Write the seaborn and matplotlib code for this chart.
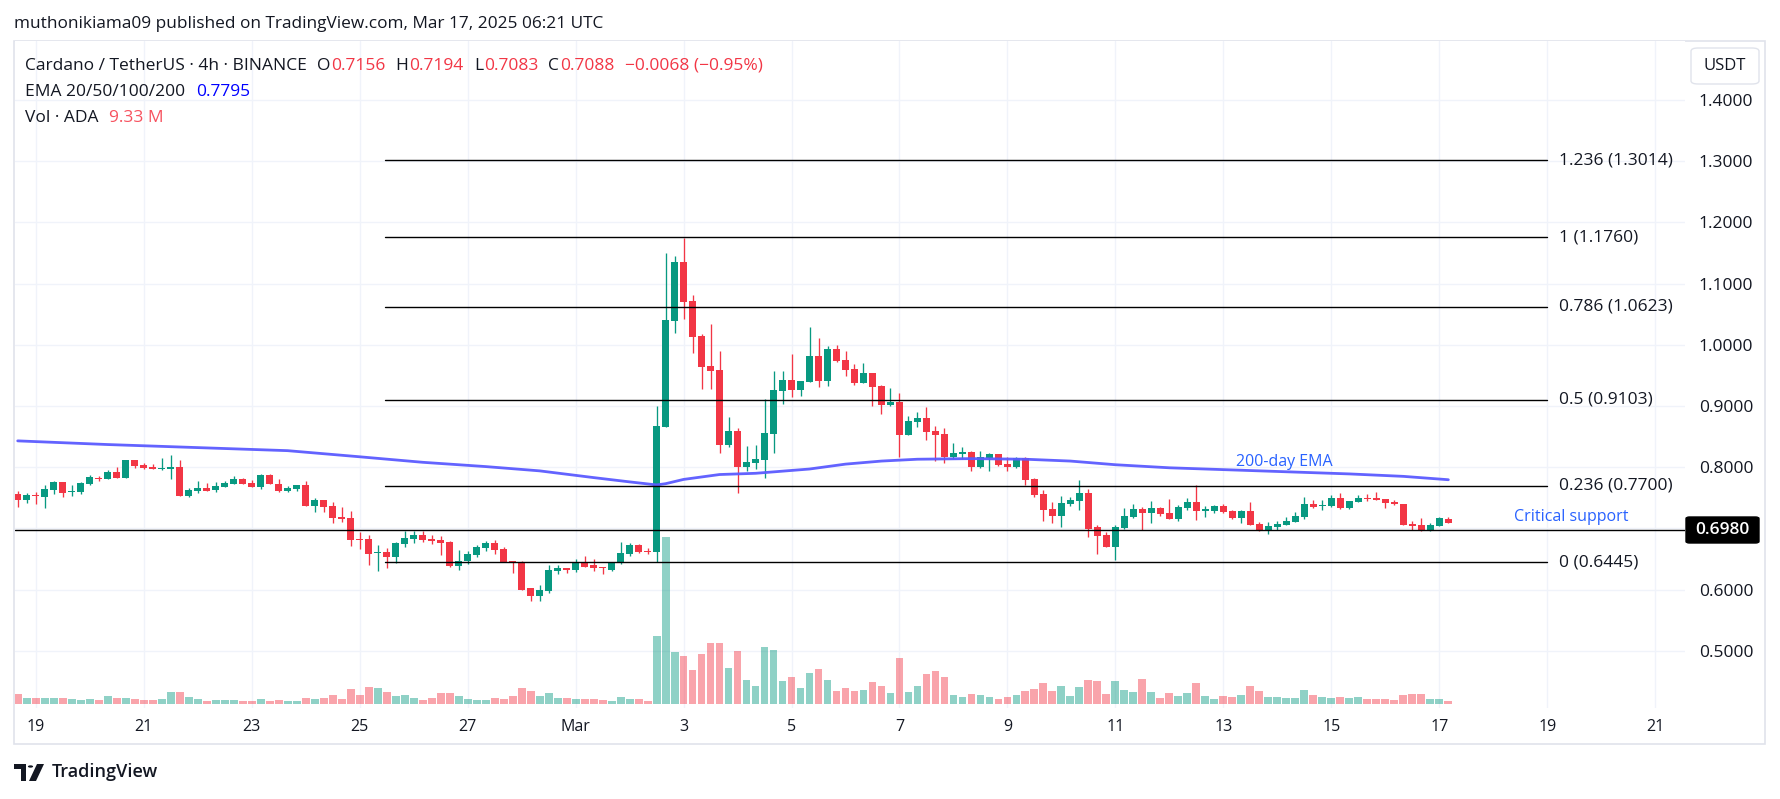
import numpy as np
import pandas as pd
import matplotlib
matplotlib.use("Agg")
import matplotlib.pyplot as plt
import seaborn as sns
from matplotlib.patches import Rectangle, FancyBboxPatch, Polygon, Circle

# ---------------- data ----------------
start_time = "2025-02-18 16:00"
opens = [0.7556,0.7462,0.7533,0.7511,0.7626,0.7751,0.7593,0.7593,0.7718,0.7822,
         0.7805,0.7914,0.7822,0.8110,0.8029,0.7996,0.7963,0.7969,0.7996,0.7522,
         0.7604,0.7653,0.7620,0.7675,0.7718,0.7800,0.7735,0.7675,0.7865,0.7718,
         0.7609,0.7637,0.7702,0.7364,0.7457,0.7359,0.7184,0.7168,0.6819,0.6819,
         0.6601,0.6606,0.6530,0.6743,0.6819,0.6900,0.6819,0.6803,0.6770,0.6383,
         0.6465,0.6563,0.6672,0.6754,0.6656,0.6459,0.6443,0.6018,0.5903,0.5969,
         0.6296,0.6345,0.6312,0.6443,0.6394,0.6360,0.6328,0.6427,0.6574,0.6721,
         0.6623,0.6606,0.8663,1.0390,1.1348,1.0711,1.0145,0.9655,0.9584,0.8364,
         0.8587,0.8004,0.8070,0.8118,0.8543,0.9246,0.9420,0.9262,0.9393,0.9818,
         0.9409,0.9927,0.9747,0.9600,0.9377,0.9535,0.9322,0.9017,0.9061,0.8527,
         0.8734,0.8799,0.8587,0.8539,0.8169,0.8218,0.8245,0.8005,0.8147,0.8212,
         0.8049,0.8005,0.8147,0.7804,0.7559,0.7313,0.7205,0.7395,0.7450,0.7575,
         0.7019,0.6889,0.6698,0.7008,0.7188,0.7313,0.7254,0.7330,0.7248,0.7156,
         0.7335,0.7428,0.7292,0.7286,0.7362,0.7286,0.7166,0.7286,0.7068,0.6976,
         0.7019,0.7057,0.7106,0.7182,0.7395,0.7368,0.7362,0.7493,0.7330,0.7433,
         0.7488,0.7493,0.7477,0.7433,0.7400,0.7057,0.7052,0.6976,0.7041,0.7156]
highs = [0.7604,0.7582,0.7588,0.7702,0.7767,0.7760,0.7702,0.7751,0.7876,0.7849,
         0.7947,0.7996,0.8115,0.8115,0.8070,0.8045,0.8143,0.8192,0.8110,0.7653,
         0.7767,0.7735,0.7751,0.7767,0.7849,0.7816,0.7784,0.7882,0.7882,0.7800,
         0.7686,0.7702,0.7767,0.7490,0.7460,0.7424,0.7348,0.7277,0.6933,0.6900,
         0.6721,0.6672,0.6770,0.6950,0.6950,0.6950,0.6900,0.6868,0.6786,0.6639,
         0.6623,0.6721,0.6786,0.6803,0.6688,0.6475,0.6459,0.6034,0.6083,0.6394,
         0.6394,0.6360,0.6492,0.6541,0.6492,0.6367,0.6443,0.6770,0.6754,0.6737,
         0.6672,0.8994,1.1495,1.1446,1.1751,1.0809,1.0177,1.0335,0.9894,0.8816,
         0.8636,0.8342,0.8358,0.9110,0.9567,0.9567,0.9845,0.9404,1.0286,1.0107,
         0.9976,0.9992,0.9894,0.9682,0.9698,0.9540,0.9338,0.9290,0.9208,0.8832,
         0.8897,0.8979,0.8669,0.8648,0.8392,0.8326,0.8267,0.8267,0.8228,0.8215,
         0.8174,0.8174,0.8163,0.7820,0.7624,0.7428,0.7526,0.7510,0.7787,0.7640,
         0.7052,0.6938,0.7052,0.7330,0.7395,0.7346,0.7444,0.7346,0.7477,0.7379,
         0.7504,0.7706,0.7368,0.7384,0.7395,0.7297,0.7297,0.7433,0.7101,0.7101,
         0.7117,0.7182,0.7264,0.7509,0.7460,0.7460,0.7542,0.7586,0.7444,0.7542,
         0.7558,0.7591,0.7480,0.7460,0.7405,0.7117,0.7166,0.7084,0.7182,0.7194]
lows = [0.7348,0.7413,0.7397,0.7331,0.7560,0.7510,0.7528,0.7560,0.7702,0.7773,
        0.7800,0.7822,0.7822,0.7985,0.7963,0.7963,0.7953,0.7805,0.7528,0.7510,
        0.7577,0.7609,0.7593,0.7675,0.7718,0.7718,0.7675,0.7642,0.7718,0.7593,
        0.7593,0.7609,0.7364,0.7266,0.7266,0.7086,0.7102,0.6710,0.6661,0.6400,
        0.6301,0.6350,0.6432,0.6694,0.6759,0.6770,0.6737,0.6563,0.6367,0.6318,
        0.6421,0.6530,0.6623,0.6574,0.6443,0.6268,0.6001,0.5810,0.5810,0.5936,
        0.6247,0.6263,0.6280,0.6377,0.6296,0.6247,0.6296,0.6410,0.6541,0.6590,
        0.6574,0.6443,0.8663,1.0194,1.0422,0.9867,0.9279,0.9279,0.8233,0.8331,
        0.7580,0.7939,0.7971,0.7824,0.8233,0.9034,0.9148,0.9164,0.9393,0.9311,
        0.9328,0.9720,0.9491,0.9344,0.9377,0.9001,0.8870,0.9001,0.8168,0.8527,
        0.8652,0.8445,0.8102,0.8070,0.8141,0.8141,0.7940,0.7989,0.7940,0.8021,
        0.7940,0.7989,0.7711,0.7515,0.7123,0.7085,0.7025,0.7362,0.7303,0.6861,
        0.6584,0.6698,0.6486,0.6992,0.7172,0.6976,0.7090,0.7205,0.7156,0.7123,
        0.7303,0.7139,0.7188,0.7253,0.7253,0.7150,0.7090,0.7052,0.6959,0.6910,
        0.6970,0.7052,0.7106,0.7150,0.7335,0.7297,0.7351,0.7319,0.7319,0.7428,
        0.7444,0.7460,0.7335,0.7379,0.7052,0.6970,0.6954,0.6959,0.7035,0.7083]
closes = [0.7462,0.7538,0.7522,0.7637,0.7751,0.7577,0.7604,0.7735,0.7833,0.7805,
          0.7914,0.7822,0.8110,0.8012,0.7985,0.7969,0.7980,0.7996,0.7528,0.7620,
          0.7653,0.7609,0.7686,0.7735,0.7800,0.7718,0.7675,0.7865,0.7718,0.7604,
          0.7653,0.7702,0.7364,0.7457,0.7348,0.7168,0.7151,0.6808,0.6808,0.6580,
          0.6606,0.6530,0.6754,0.6835,0.6900,0.6803,0.6786,0.6759,0.6383,0.6475,
          0.6574,0.6688,0.6754,0.6645,0.6443,0.6443,0.6001,0.5903,0.5985,0.6312,
          0.6345,0.6318,0.6443,0.6377,0.6345,0.6350,0.6443,0.6590,0.6721,0.6606,
          0.6606,0.8667,1.0400,1.1348,1.0700,1.0128,0.9638,0.9573,0.8364,0.8587,
          0.8004,0.8086,0.8135,0.8554,0.9257,0.9420,0.9262,0.9404,0.9818,0.9409,
          0.9927,0.9736,0.9589,0.9377,0.9535,0.9311,0.9017,0.9061,0.8527,0.8750,
          0.8799,0.8576,0.8527,0.8169,0.8228,0.8245,0.8005,0.8163,0.8212,0.8032,
          0.8005,0.8147,0.7793,0.7548,0.7303,0.7205,0.7411,0.7461,0.7575,0.6988,
          0.6877,0.6698,0.7019,0.7199,0.7313,0.7254,0.7330,0.7237,0.7156,0.7346,
          0.7428,0.7286,0.7297,0.7362,0.7270,0.7166,0.7286,0.7052,0.6976,0.7035,
          0.7068,0.7117,0.7199,0.7395,0.7351,0.7379,0.7493,0.7330,0.7444,0.7493,
          0.7477,0.7466,0.7422,0.7395,0.7052,0.7047,0.6976,0.7052,0.7166,0.7088]
volumes_m = [31,18.6,18.6,18.6,18.6,18.6,15.5,12.4,15.5,12.4,
             24.8,18.6,18.6,15.5,12.4,12.4,15.5,37.2,37.2,21.7,
             15.5,9.3,12.4,12.4,12.4,9.3,9.3,15.5,9.3,12.4,
             9.3,9.3,18.6,15.5,18.6,27.9,15.5,46.5,27.9,52.7,
             49.6,37.2,24.8,27.9,18.6,12.4,18.6,34.1,34.1,24.8,
             15.5,12.4,12.4,18.6,15.5,24.8,49.6,40.3,24.8,34.1,
             18.6,18.6,15.5,15.5,15.5,12.4,9.3,21.7,15.5,15.5,
             9.3,210.8,517.7,161.2,148.8,105.4,155,189.1,189.1,111.6,
             164.3,74.4,55.8,176.7,167.4,71.3,83.7,49.6,96.1,108.5,
             74.4,40.3,49.6,40.3,43.4,68.2,55.8,34.1,142.6,37.2,
             55.8,93,102.3,83.7,27.9,21.7,31,27.9,21.7,15.5,
             21.7,27.9,40.3,46.5,65.1,40.3,55.8,24.8,52.7,74.4,
             71.3,31,71.3,43.4,37.2,77.5,37.2,18.6,34.1,24.8,
             34.1,65.1,24.8,15.5,24.8,21.7,27.9,55.8,40.3,21.7,
             21.7,18.6,18.6,43.4,27.9,21.7,18.6,21.7,18.6,21.7,
             15.5,15.5,15.5,12.4,27.9,31,31,15.5,15.5,9.33]
ema_idx = [0, 10, 20, 30, 38, 45, 52, 58, 64, 68, 71, 72, 74, 78, 82, 88, 92, 96,
           100, 106, 112, 117, 122, 128, 134, 140, 148, 154, 159]
ema_vals = [0.843, 0.837, 0.832, 0.827, 0.817, 0.808, 0.801, 0.794, 0.783, 0.776,
            0.771, 0.773, 0.780, 0.788, 0.790, 0.797, 0.805, 0.810, 0.813, 0.814,
            0.813, 0.810, 0.804, 0.799, 0.796, 0.793, 0.789, 0.785, 0.7795]
fib_levels = ["0", "0.236", "0.5", "0.786", "1", "1.236"]
fib_prices = [0.6445, 0.7700, 0.9103, 1.0623, 1.1760, 1.3014]
support_price = 0.6980
price_ticks = [0.5, 0.6, 0.7, 0.8, 0.9, 1.0, 1.1, 1.2, 1.3, 1.4]
tick_dates = pd.date_range("2025-02-19", "2025-03-21", freq="2D")

# ---------------- style ----------------
W, H = 1781, 799
sns.set_theme(style="white")
plt.rcParams["font.family"] = ["Open Sans", "DejaVu Sans"]
DARK = "#131722"
UP = "#089981"
DOWN = "#f23645"
GRID = "#f0f3fa"
BLUE_TXT = "#2962ff"

def fx(x):
    return x / W

def fy(y):
    return 1 - y / H

fig = plt.figure(figsize=(W / 100, H / 100), dpi=100)
fig.patch.set_facecolor("white")
rect = [fx(15), fy(708), (1685 - 15) / W, (708 - 41) / H]
ax_v = fig.add_axes(rect, zorder=1)
ax = fig.add_axes(rect, zorder=2)
ax.patch.set_alpha(0)

n = len(closes)
times = pd.date_range(start_time, periods=n, freq="4h")
xs = np.arange(n)
o = np.array(opens); h = np.array(highs); l = np.array(lows); c = np.array(closes)
up = c >= o
col = np.where(up, UP, DOWN)

XL = (-0.3, 185.3)
YL = (0.4065, 1.4964)
for a in (ax, ax_v):
    a.set_xlim(*XL)
    for s in a.spines.values():
        s.set_visible(False)
ax.set_ylim(*YL)
ax_v.set_ylim(-12.4, 2055)

# grid (bottom layer)
tick_pos = (tick_dates - times[0]) / pd.Timedelta("4h")
for tp in tick_pos:
    ax_v.axvline(tp, color=GRID, lw=1.0, zorder=0)
for p in price_ticks:
    ax_v.plot([0, 1], [p, p], transform=ax.get_yaxis_transform(), color=GRID, lw=1.0, zorder=0)
ax_v.set_xticks([]); ax_v.set_yticks([])

# volume
vcol = np.where(up, UP, DOWN)
ax_v.bar(xs, volumes_m, width=0.88, color=vcol, alpha=0.45, linewidth=0, zorder=2)

# candles
ax.vlines(xs, l, h, colors=col, lw=0.95, zorder=3)
body_h = np.maximum(np.abs(c - o), 0.0017)
ax.bar(xs, body_h, bottom=np.minimum(o, c), width=0.78, color=col, linewidth=0, zorder=4)

# EMA
sns.lineplot(x=ema_idx, y=ema_vals, ax=ax, color="#5b5bff", lw=2.0, zorder=5, alpha=0.95)

# fib lines
fib_x0, fib_x1 = 40.8, 170.0
for lev, p in zip(fib_levels, fib_prices):
    ax.plot([fib_x0, fib_x1], [p, p], color="black", lw=1.0, zorder=6)
    ax.text(171.3, p, f"{lev} ({p:.4f})", color=DARK, fontsize=12.5, va="center", ha="left", zorder=7)
ax.axhline(support_price, color="black", lw=1.0, zorder=6)

ax.text(135.4, 0.8085, "200-day EMA", color=BLUE_TXT, fontsize=11.5, va="center", ha="left", zorder=7)
ax.text(166.3, 0.7186, "Critical support", color=BLUE_TXT, fontsize=11.5, va="center", ha="left", zorder=7)

# axes ticks
ax.yaxis.tick_right()
shown = [p for p in price_ticks if abs(p - 0.7) > 1e-9]
ax.set_yticks(shown)
ax.set_yticklabels([f"{p:.4f}" for p in shown])
ax.tick_params(axis="y", length=0, pad=10, labelsize=12.5, labelcolor=DARK)
ax.set_xticks(tick_pos)
ax.set_xticklabels(["Mar" if d.day == 1 else str(d.day) for d in tick_dates])
ax.tick_params(axis="x", length=0, pad=8, labelsize=11.5, labelcolor=DARK)
ax.set_xlabel(""); ax.set_ylabel("")
ax.grid(False); ax_v.grid(False)

# frame
fig.add_artist(Rectangle((fx(14), fy(744)), (1765 - 14) / W, (744 - 41) / H, transform=fig.transFigure,
                         fill=False, edgecolor="#e0e3eb", lw=1.2, zorder=0))

# support price box
fig.add_artist(FancyBboxPatch((fx(1686), fy(543)), (1759 - 1686) / W, 26 / H,
                              boxstyle="round,pad=0,rounding_size=0.002", transform=fig.transFigure,
                              facecolor="black", edgecolor="black", zorder=10))
fig.text(fx(1722.5), fy(530), f"{support_price:.4f}", color="white", fontsize=12.5,
         ha="center", va="center", zorder=11, fontweight="semibold")

# USDT box
fig.add_artist(FancyBboxPatch((fx(1691), fy(84)), (1759 - 1691) / W, 36 / H,
                              boxstyle="round,pad=0,rounding_size=0.004", transform=fig.transFigure,
                              facecolor="white", edgecolor="#e0e3eb", lw=1.0, zorder=10))
fig.text(fx(1725), fy(66), "USDT", color=DARK, fontsize=12, ha="center", va="center", zorder=11)

# header texts
renderer = fig.canvas.get_renderer()

def seq(x, y, pieces, size):
    for txt, colr, gap in pieces:
        t = fig.text(fx(x), fy(y), txt, color=colr, fontsize=size, ha="left", va="center")
        bb = t.get_window_extent(renderer)
        x = x + bb.width + gap

fig.text(fx(14), fy(24), "muthonikiama09 published on TradingView.com, Mar 17, 2025 06:21 UTC",
         color=DARK, fontsize=12.4, ha="left", va="center")
seq(25, 66, [("Cardano / TetherUS · 4h · BINANCE", DARK, 10),
             ("O", DARK, 1), (f"{opens[-1]:.4f}", DOWN, 10),
             ("H", DARK, 1), (f"{highs[-1]:.4f}", DOWN, 10),
             ("L", DARK, 1), (f"{lows[-1]:.4f}", DOWN, 10),
             ("C", DARK, 1), (f"{closes[-1]:.4f}", DOWN, 11),
             ("\u22120.0068 (\u22120.95%)", DOWN, 0)], 12.5)
seq(25, 92, [("EMA 20/50/100/200", DARK, 11), (f"{ema_vals[-1]:.4f}", "#0000ff", 0)], 12.5)
seq(25, 118, [("Vol · ADA", DARK, 11), (f"{volumes_m[-1]:.2f} M", "#f7525f", 0)], 12.5)

# TradingView logo
fig.add_artist(Polygon([(fx(14), fy(764)), (fx(26), fy(764)), (fx(26), fy(781)), (fx(21), fy(781)),
                        (fx(21), fy(769)), (fx(14), fy(769))], closed=True, transform=fig.transFigure,
                       facecolor=DARK, edgecolor="none"))
fig.add_artist(Circle((fx(30.5), fy(766.5)), 2.6 / W, transform=fig.transFigure, facecolor=DARK, edgecolor="none"))
fig.add_artist(Polygon([(fx(37), fy(764)), (fx(44), fy(764)), (fx(36), fy(781)), (fx(29), fy(781))],
                       closed=True, transform=fig.transFigure, facecolor=DARK, edgecolor="none"))
fig.text(fx(52), fy(772), "TradingView", color=DARK, fontsize=13, fontweight="semibold",
         ha="left", va="center")

fig.savefig("out.png", dpi=100, facecolor="white")
